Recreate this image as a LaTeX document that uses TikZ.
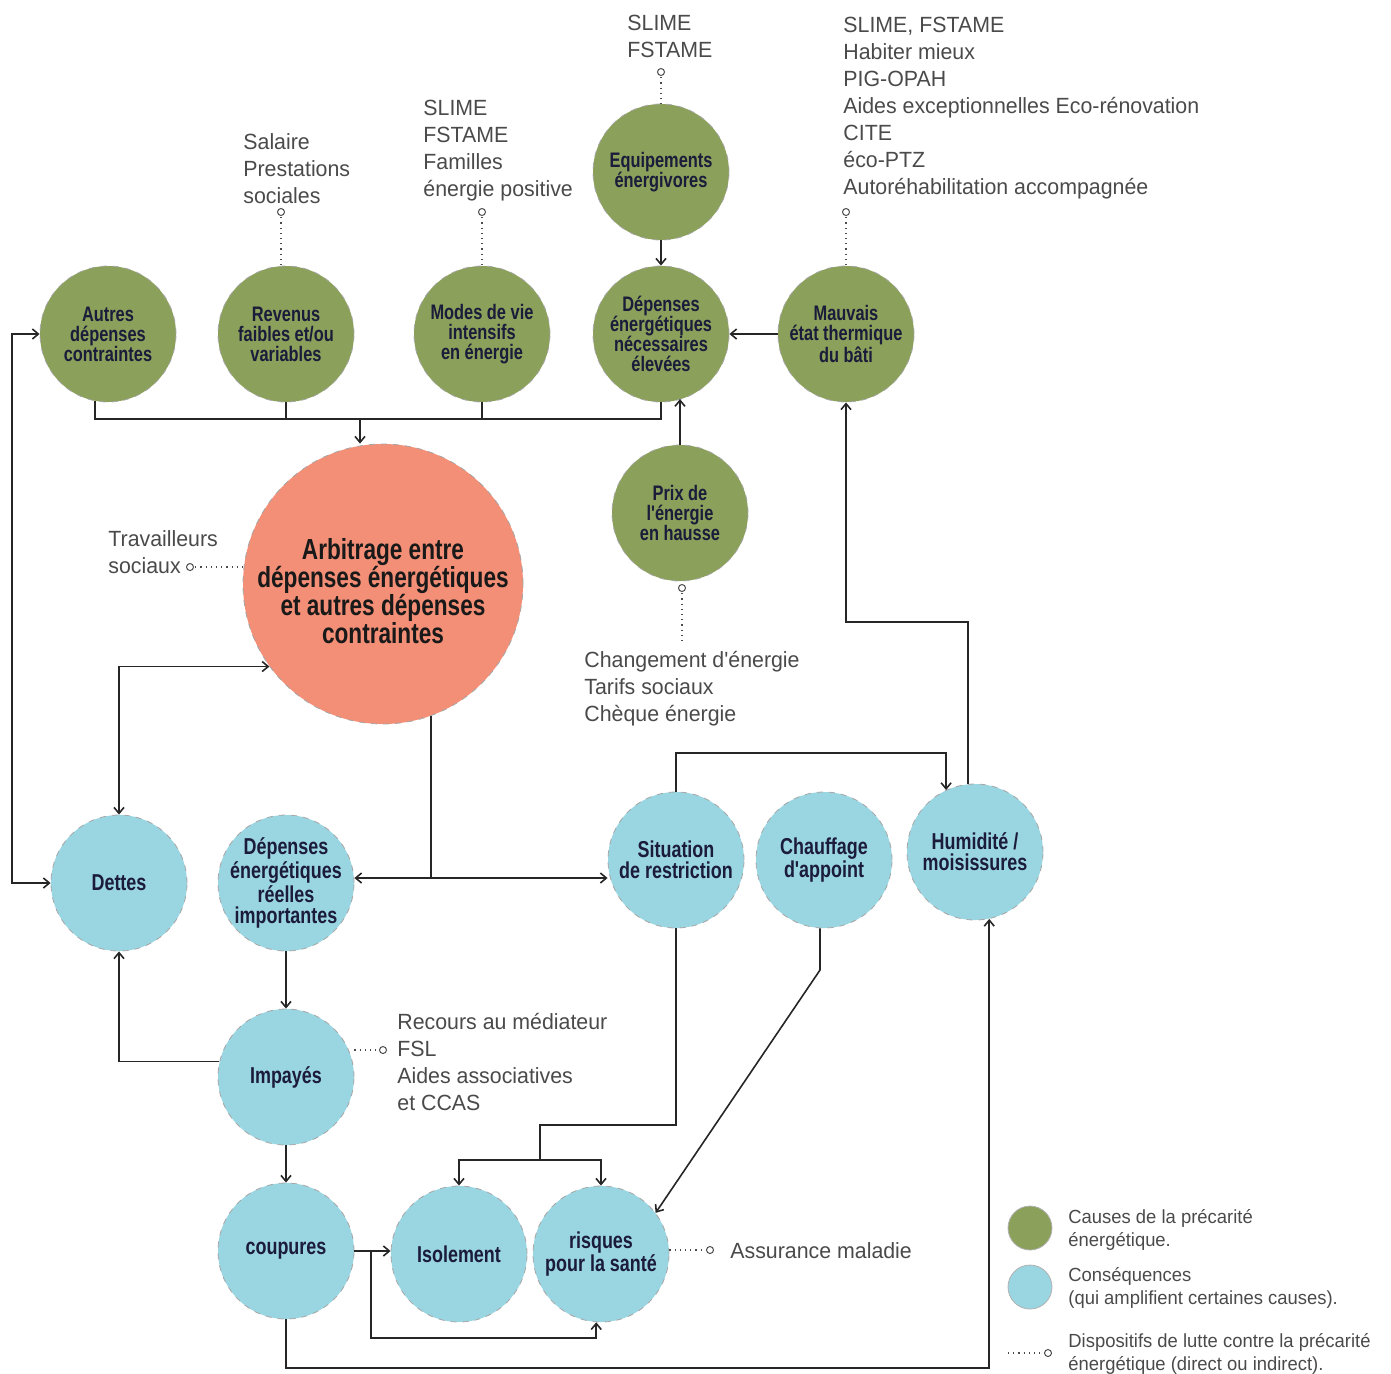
\documentclass[tikz,border=0pt]{standalone}
\usepackage{fontspec}
\usetikzlibrary{arrows.meta,calc}
\newfontfamily\cfont[FakeStretch=0.78]{Liberation Sans}
\newfontfamily\afont[FakeStretch=0.97]{Liberation Sans}
\definecolor{cgreen}{HTML}{8BA05B}
\definecolor{cblue}{HTML}{9AD5E2}
\definecolor{corange}{HTML}{F38F76}
\definecolor{navy}{HTML}{1B1B3A}
\definecolor{agray}{HTML}{4A4A4A}
\tikzset{
  bubble/.style={circle, draw=black!35, dash pattern=on 3pt off 3pt, line width=0.4pt,
    minimum size=68pt, inner sep=-6pt, align=center, text=navy},
  cause/.style={bubble, fill=cgreen, font=\cfont\bfseries\fontsize{10.5}{10}\selectfont},
  conseq/.style={bubble, fill=cblue, font=\cfont\bfseries\fontsize{11.5}{10.5}\selectfont},
  bigbubble/.style={bubble, fill=corange, minimum size=140pt},
  bigtext/.style={align=center, inner sep=0pt, text=black!90,
    font=\cfont\bfseries\fontsize{14.5}{14}\selectfont},
  annot/.style={anchor=base west, align=left, inner sep=0pt, text=agray,
    font=\afont\fontsize{11}{13.5}\selectfont},
  legtext/.style={anchor=base west, align=left, inner sep=0pt, text=agray,
    font=\afont\fontsize{9.5}{11.5}\selectfont},
  link/.style={line width=0.8pt, draw=black!85},
  arr/.style={link, -{Straight Barb[length=3pt,width=5pt]}},
  arrboth/.style={link, {Straight Barb[length=3pt,width=5pt]}-{Straight Barb[length=3pt,width=5pt]}},
  dotl/.style={line width=0.6pt, draw=black!70, dotted},
  knob/.style={circle, draw=black!70, fill=white, line width=0.5pt, inner sep=0pt, minimum size=3.5pt},
  legdot/.style={circle, minimum size=22pt, inner sep=0pt, draw=black!30}
}
\begin{document}
\begin{tikzpicture}[x=0.5pt,y=-0.5pt]
\useasboundingbox (0,0) rectangle (1391,1373);

% ---------- cause nodes ----------
\node[cause] (autres) at (108,334) {Autres\\dépenses\\contraintes};
\node[cause] (rev) at (286,334) {Revenus\\faibles et/ou\\variables};
\node[cause] (modes) at (482,334) {Modes de vie\\intensifs\\en énergie};
\node[cause] (dep) at (661,334) {Dépenses\\énergétiques\\nécessaires\\élevées};
\node[cause] (equip) at (661,172) {Equipements\\énergivores};
\node[cause] (mauv) at (846,334) {Mauvais\\état thermique\\du bâti};
\node[cause] (prix) at (680,513) {Prix de\\l'énergie\\en hausse};

% ---------- central node ----------
\node[bigbubble] (arb) at (383,584) {};
\node[bigtext] (arbt) at (383,591) {Arbitrage entre\\dépenses énergétiques\\et autres dépenses\\contraintes};

% ---------- consequence nodes ----------
\node[conseq] (dettes) at (119,883) {Dettes};
\node[conseq] (reel) at (286,883) {Dépenses\\énergétiques\\réelles\\importantes};
\node[conseq] (sit) at (676,860) {Situation\\de restriction};
\node[conseq] (chauf) at (824,860) {Chauffage\\d'appoint};
\node[conseq] (hum) at (975,852) {Humidité /\\moisissures};
\node[conseq] (imp) at (286,1077) {Impayés};
\node[conseq] (coup) at (286,1251) {coupures};
\node[conseq] (iso) at (459,1254) {Isolement};
\node[conseq] (ris) at (601,1254) {risques\\pour la santé};

% ---------- annotations (anchor = baseline of last line) ----------
\node[annot] (tSal) at (243,203) {Salaire\\Prestations\\sociales};
\node[annot] (tSl1) at (423,196) {SLIME\\FSTAME\\Familles\\énergie positive};
\node[annot] (tSl2) at (627,57) {SLIME\\FSTAME};
\node[annot] (tSl3) at (843,194) {SLIME, FSTAME\\Habiter mieux\\PIG-OPAH\\Aides exceptionnelles Eco-rénovation\\CITE\\éco-PTZ\\Autoréhabilitation accompagnée};
\node[annot] (tTra) at (108,573) {Travailleurs\\sociaux};
\node[annot] (tCha) at (584,721) {Changement d'énergie\\Tarifs sociaux\\Chèque énergie};
\node[annot] (tRec) at (397,1110) {Recours au médiateur\\FSL\\Aides associatives\\et CCAS};
\node[annot] (tAss) at (730,1258) {Assurance maladie};

% ---------- dotted "dispositifs" links ----------
\coordinate (kSal) at (281,212);
\coordinate (kSl1) at (482,212);
\coordinate (kSl2) at (661,72);
\coordinate (kSl3) at (846,212);
\coordinate (kTra) at (190,567);
\coordinate (kPri) at (682,588);
\coordinate (kRec) at (383,1050);
\coordinate (kAss) at (710,1250);
\draw[dotl] (kSal) -- (kSal |- rev.north);
\draw[dotl] (kSl1) -- (kSl1 |- modes.north);
\draw[dotl] (kSl2) -- (equip.north);
\draw[dotl] (kSl3) -- (mauv.north);
\draw[dotl] (kTra) -- (kTra -| arb.west);
\draw[dotl] (kPri) -- (682,645);
\draw[dotl] (imp.east |- kRec) -- (kRec);
\draw[dotl] (ris.east |- kAss) -- (kAss);
\foreach \k in {kSal,kSl1,kSl2,kSl3,kTra,kPri,kRec,kAss}
  \node[knob] at (\k) {};

% ---------- solid links ----------
\coordinate (bus) at (360,419);
\draw[link] (autres.259) |- (bus) -| (dep.south);
\draw[link] (rev.south) -- (rev.south |- bus);
\draw[link] (modes.south) -- (modes.south |- bus);
\draw[arr] (bus) -- (bus |- arb.north);

\draw[arr] (equip) -- (dep);
\draw[arr] (mauv) -- (dep);
\draw[arr] (prix.north) -- (prix.north |- dep.288);
\draw[arr] (hum.96) |- (mauv.south |- 0,622) -- (mauv.south);
\draw[arr] (sit.north) |- (hum.115 |- 0,753) -- (hum.115);

\draw[link] (arb.290) -- (arb.290 |- 0,878) coordinate (junc);
\draw[arr] (junc) -- (junc -| reel.east);
\draw[arr] (junc) -- (junc -| sit.west);

\draw[arrboth] (arb.216) -| (dettes.north);
\draw[arrboth] (autres.west) -- (autres.west -| 12,0) |- (dettes.west);

\draw[arr] (reel) -- (imp);
\draw[arr] (imp.167) -| (dettes.south);
\draw[arr] (imp) -- (coup);

\draw[arr] (coup.east) -- (coup.east -| iso.west);
\coordinate (br) at (371,1251);
\draw[arr] (br) |- (ris.266 |- 0,1338) -- (ris.266);
\draw[arr] (coup.south) |- (hum.282 |- 0,1368) -- (hum.282);

\coordinate (sj) at (540,1160);
\draw[link] (sit.south) |- (sj |- 0,1125) -- (sj);
\draw[arr] (sj) -| (iso.north);
\draw[arr] (sj) -| (ris.north);

\draw[arr] (chauf.south -| 820,0) -- (820,970) -- (ris.37);

% ---------- legend ----------
\node[legdot, fill=cgreen] (lg1) at (1030,1228) {};
\node[legdot, fill=cblue] (lg2) at (1030,1287) {};
\node[legtext] (lt1) at (1068,1246) {Causes de la précarité\\énergétique.};
\node[legtext] (lt2) at (1068,1304) {Conséquences\\(qui amplifient certaines causes).};
\node[legtext] (lt3) at (1068,1370) {Dispositifs de lutte contre la précarité\\énergétique (direct ou indirect).};
\coordinate (lk) at (1048,1353);
\draw[dotl] (1008,1353) -- (lk);
\node[knob] at (lk) {};
\end{tikzpicture}
\end{document}
